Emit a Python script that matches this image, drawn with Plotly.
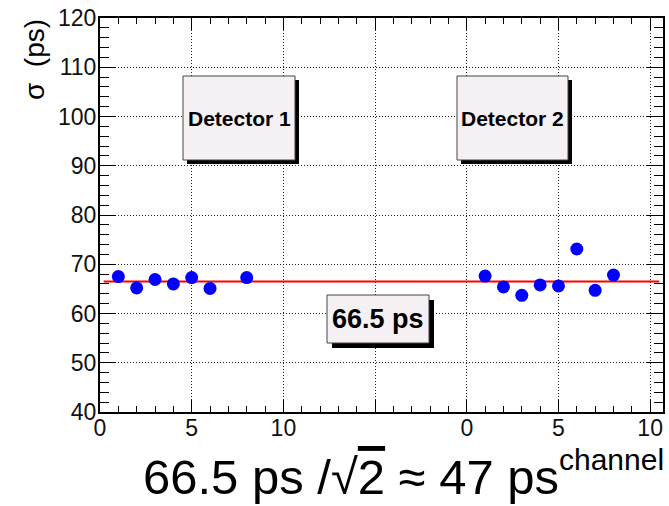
import math
import plotly.graph_objects as go

# ---- data -------------------------------------------------------------
det1_channel = [1, 2, 3, 4, 5, 6, 8]
det1_sigma = [67.5, 65.2, 66.9, 66.0, 67.3, 65.1, 67.3]

det2_channel = [1, 2, 3, 4, 5, 6, 7, 8]
det2_sigma = [67.6, 65.4, 63.7, 65.8, 65.6, 73.1, 64.7, 67.8]

mean_sigma = 66.5            # constant fit over both detectors (ps)
fit_range = [0.2, 30.5]      # fit line extent on the combined axis

x_tickvals = [0, 5, 10, 15, 20, 25, 30]
x_ticktext = ["0", "5", "10", "", "0", "5", "10"]

# ---- layout geometry --------------------------------------------------
W, H = 669, 506
ML, MR, MT, MB = 100, 6, 18, 94
DET2_OFFSET = 20             # detector 2 channels start at 20 on the shared axis

FONT = "Liberation Sans, Arial, Helvetica, sans-serif"


def fx(p):
    """pixel x -> paper x"""
    return (p - ML) / (W - ML - MR)


def fy(p):
    """pixel y -> paper y"""
    return 1 - (p - MT) / (H - MT - MB)


fig = go.Figure()

# fit line
fig.add_trace(go.Scatter(
    x=fit_range, y=[mean_sigma, mean_sigma], mode="lines",
    line=dict(color="#ff0000", width=2), hoverinfo="skip", showlegend=False))

# detector points
fig.add_trace(go.Scatter(
    x=det1_channel, y=det1_sigma, mode="markers",
    marker=dict(color="#0000ff", size=13, symbol="circle"),
    name="Detector 1", showlegend=False))
fig.add_trace(go.Scatter(
    x=[c + DET2_OFFSET for c in det2_channel], y=det2_sigma, mode="markers",
    marker=dict(color="#0000ff", size=13, symbol="circle"),
    name="Detector 2", showlegend=False))

# ---- boxed labels (shadow + pave) ------------------------------------
PAVE_FILL = "#f5f0f4"


def pave(x0, y0, x1, y1, text, size, shadow=4):
    fig.add_shape(type="rect", xref="paper", yref="paper", layer="above",
                  x0=fx(x0 + shadow), x1=fx(x1 + shadow),
                  y0=fy(y0 + shadow), y1=fy(y1 + shadow),
                  line=dict(width=0), fillcolor="black")
    fig.add_shape(type="rect", xref="paper", yref="paper", layer="above",
                  x0=fx(x0), x1=fx(x1), y0=fy(y0), y1=fy(y1),
                  line=dict(width=1, color="#444444"), fillcolor=PAVE_FILL)
    fig.add_annotation(text=f"<b>{text}</b>", xref="paper", yref="paper",
                       x=fx((x0 + x1) / 2), y=fy((y0 + y1) / 2),
                       xanchor="center", yanchor="middle", showarrow=False,
                       font=dict(family=FONT, size=size, color="black"))


pave(183, 76, 295, 160, "Detector 1", 21)
pave(457, 76, 568, 160, "Detector 2", 21)
pave(327, 295, 429, 343, f"{mean_sigma} ps", 27, shadow=5)

# ---- axis titles and summary text ------------------------------------
fig.add_annotation(text="σ  (ps)", xref="paper", yref="paper",
                   x=fx(35), y=fy(60), textangle=-90, showarrow=False,
                   xanchor="center", yanchor="middle",
                   font=dict(family=FONT, size=28, color="black"))
fig.add_annotation(text="channel", xref="paper", yref="paper",
                   x=fx(666), y=fy(459), showarrow=False,
                   xanchor="right", yanchor="middle",
                   font=dict(family=FONT, size=30, color="black"))

per_detector = round(mean_sigma / math.sqrt(2))
fig.add_annotation(
    text=(f"{mean_sigma} ps /√<span style='text-decoration:overline'>2</span>"
          f" ≈ {per_detector} ps"),
    xref="paper", yref="paper", x=fx(351), y=fy(477), showarrow=False,
    xanchor="center", yanchor="middle",
    font=dict(family=FONT, size=49, color="black"))

# ---- axes ----------------------------------------------------------------
grid = dict(showgrid=True, gridcolor="#222222", gridwidth=1, griddash="1px,2px")

fig.update_xaxes(
    range=[0, 30.7], tickmode="array", tickvals=x_tickvals, ticktext=x_ticktext,
    ticks="inside", ticklen=12, tickwidth=1, tickcolor="black",
    showline=True, linecolor="black", linewidth=2, mirror="ticks",
    zeroline=False, ticklabelstandoff=-6,
    tickfont=dict(family=FONT, size=23, color="#111111"),
    minor=dict(tickmode="linear", tick0=0, dtick=1, ticks="inside",
               ticklen=6, tickwidth=1, tickcolor="black", showgrid=False),
    **grid)
fig.update_yaxes(
    range=[40, 120], tickmode="linear", tick0=40, dtick=10,
    ticks="inside", ticklen=16, tickwidth=1, tickcolor="black",
    showline=True, linecolor="black", linewidth=2, mirror="ticks",
    zeroline=False, ticklabelstandoff=-3,
    tickfont=dict(family=FONT, size=23, color="#111111"),
    minor=dict(tickmode="linear", tick0=40, dtick=2, ticks="inside",
               ticklen=9, tickwidth=1, tickcolor="black", showgrid=False),
    **grid)

fig.update_layout(
    width=W, height=H, margin=dict(l=ML, r=MR, t=MT, b=MB, autoexpand=False),
    paper_bgcolor="white", plot_bgcolor="white", showlegend=False,
    font=dict(family=FONT))

fig.write_html("out.html")
